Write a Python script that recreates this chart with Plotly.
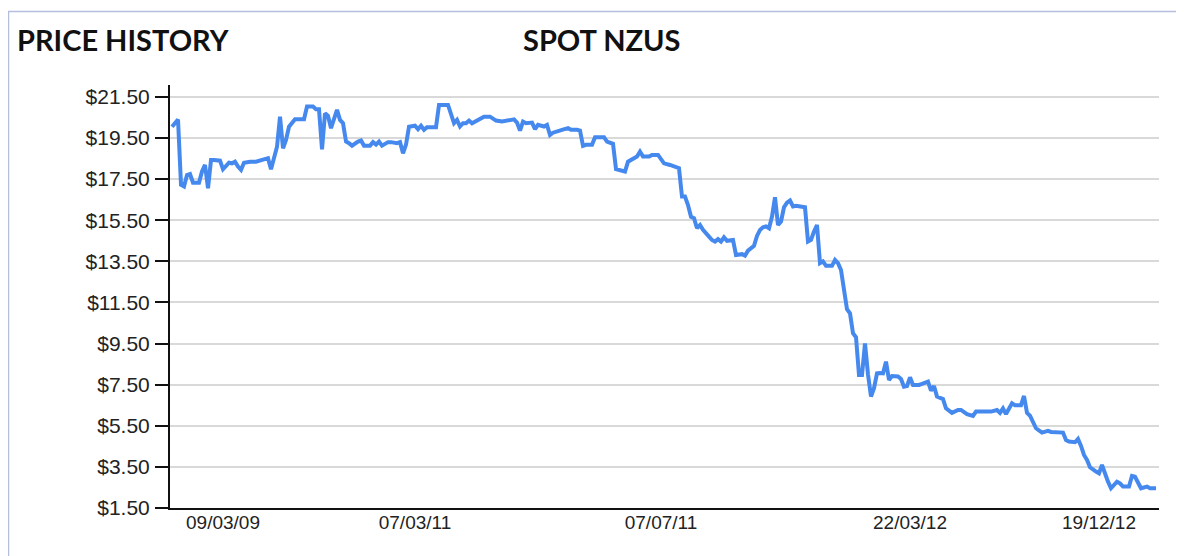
import plotly.graph_objects as go

# ---- data (observation index along the series, spot NZU price in NZ$) ----
obs = [0, 2, 3, 4, 5, 6, 7, 9, 10, 11, 12, 13, 14, 15, 16, 17, 19, 20, 21, 22, 23, 24, 26, 28, 29, 31, 32, 33, 35, 36,
       37, 38, 39, 41, 42, 44, 45, 47, 48, 49, 50, 51, 52, 53, 55, 56, 57, 58, 59, 60, 62, 63, 64, 66, 67, 68, 69, 70,
       72, 73, 75, 76, 77, 78, 79, 81, 82, 83, 84, 85, 87, 88, 89, 90, 92, 94, 95, 96, 97, 98, 99, 100, 102, 104, 106,
       108, 110, 113, 114, 115, 116, 117, 118, 120, 121, 122, 124, 125, 126, 127, 129, 130, 132, 133, 135, 136, 137,
       138, 140, 141, 142, 144, 145, 146, 147, 148, 149, 151, 152, 153, 155, 156, 157, 159, 160, 162, 163, 164, 166,
       168, 169, 170, 171, 172, 173, 174, 175, 176, 177, 179, 180, 181, 182, 183, 184, 185, 187, 188, 189, 190, 191,
       192, 194, 195, 196, 197, 198, 199, 200, 201, 202, 203, 204, 205, 206, 207, 208, 209, 211, 212, 213, 214, 215,
       216, 217, 218, 220, 221, 222, 223, 224, 225, 226, 227, 228, 229, 230, 231, 232, 233, 234, 235, 236, 237, 238,
       239, 240, 242, 243, 244, 245, 246, 247, 249, 250, 252, 253, 254, 255, 257, 258, 260, 262, 263, 265, 267, 268,
       270, 272, 273, 275, 276, 277, 278, 280, 281, 282, 283, 284, 285, 286, 287, 288, 290, 292, 293, 295, 297, 298,
       299, 301, 302, 303, 304, 305, 306, 308, 309, 310, 311, 312, 313, 315, 316, 317, 319, 320, 321, 322, 323, 325,
       326, 328]
price = [20.05, 20.40, 17.22, 17.14, 17.70, 17.75, 17.33, 17.33, 17.87, 18.19, 17.06, 18.43, 18.43, 18.43, 18.40,
         17.98, 18.30, 18.27, 18.35, 18.11, 17.95, 18.30, 18.35, 18.35, 18.40, 18.52, 18.52, 17.98, 19.08, 20.54,
         19.00, 19.41, 20.05, 20.41, 20.41, 20.41, 21.03, 21.03, 20.90, 20.90, 18.95, 20.70, 20.58, 19.98, 20.87,
         20.38, 20.22, 19.33, 19.25, 19.13, 19.33, 19.38, 19.13, 19.13, 19.30, 19.18, 19.33, 19.13, 19.30, 19.30,
         19.25, 19.30, 18.76, 19.18, 20.05, 20.10, 19.93, 20.10, 19.90, 20.03, 20.03, 20.03, 21.11, 21.11, 21.11,
         20.22, 20.38, 20.06, 20.22, 20.22, 20.35, 20.22, 20.38, 20.54, 20.54, 20.35, 20.30, 20.35, 20.41, 20.25,
         19.86, 20.30, 20.22, 20.25, 19.93, 20.14, 20.06, 20.14, 19.65, 19.76, 19.82, 19.90, 19.98, 19.90, 19.90,
         19.86, 19.12, 19.17, 19.17, 19.54, 19.54, 19.54, 19.33, 19.28, 19.22, 17.98, 17.95, 17.87, 18.35, 18.43,
         18.60, 18.84, 18.60, 18.60, 18.68, 18.68, 18.43, 18.27, 18.19, 18.10, 18.03, 16.65, 16.65, 16.24, 15.67,
         15.60, 15.11, 15.27, 15.03, 14.70, 14.54, 14.46, 14.58, 14.46, 14.67, 14.50, 14.54, 13.81, 13.85, 13.85,
         13.78, 14.02, 14.25, 14.74, 15.03, 15.16, 15.20, 15.11, 15.68, 16.62, 15.27, 15.44, 16.13, 16.36, 16.46,
         16.17, 16.20, 16.17, 16.13, 14.46, 14.54, 14.95, 15.27, 13.41, 13.50, 13.28, 13.28, 13.57, 13.41, 13.08,
         11.95, 11.17, 10.97, 10.00, 9.81, 7.97, 7.97, 9.51, 8.00, 6.92, 7.33, 8.05, 8.07, 8.05, 8.62, 7.73, 7.92,
         7.90, 7.78, 7.40, 7.43, 7.86, 7.49, 7.49, 7.54, 7.65, 7.21, 7.43, 6.92, 6.80, 6.35, 6.13, 6.27, 6.27, 6.07,
         5.98, 6.19, 6.19, 6.19, 6.19, 6.27, 6.13, 6.35, 6.07, 6.59, 6.50, 6.50, 6.50, 6.95, 6.13, 5.99, 5.70, 5.38,
         5.17, 5.25, 5.20, 5.17, 5.17, 4.81, 4.73, 4.70, 4.86, 4.52, 4.08, 3.84, 3.48, 3.27, 3.19, 3.59, 3.10, 2.78,
         2.46, 2.78, 2.70, 2.54, 2.54, 3.06, 3.02, 2.73, 2.46, 2.54, 2.46, 2.46]

date_tick_obs = [17, 81, 163, 246, 309]
date_tick_labels = ["09/03/09", "07/03/11", "07/07/11", "22/03/12", "19/12/12"]
price_ticks = [1.5, 3.5, 5.5, 7.5, 9.5, 11.5, 13.5, 15.5, 17.5, 19.5, 21.5]
price_tick_labels = ["$%.2f" % v for v in price_ticks]

chart_title = "PRICE HISTORY"
series_title = "SPOT NZUS"

# ---- layout geometry (pixels, in page coordinates; page body has an 8px margin) ----
OFF = 8
W, H = 1184 - OFF, 556 - OFF
L, R, T, B = 170 - OFF, 1159 - OFF, 85 - OFF, 508 - OFF
pw, ph = R - L, B - T


def px(x):
    return (x - OFF - L) / pw


def py(y):
    return (B - (y - OFF)) / ph


fig = go.Figure()
fig.add_trace(go.Scatter(
    x=obs, y=price, mode="lines",
    line=dict(color="#4589ee", width=4),
    hoverinfo="skip", showlegend=False,
))

x_font = dict(family="Liberation Sans, Arial, sans-serif", size=19, color="#222222")
y_font = dict(family="Liberation Sans, Arial, sans-serif", size=21, color="#222222")

fig.update_layout(
    width=W, height=H,
    margin=dict(l=L, r=W - R, t=T, b=H - B, pad=0),
    paper_bgcolor="white", plot_bgcolor="white",
    xaxis=dict(
        range=[-0.67, 329], showgrid=False, zeroline=False,
        tickmode="array", tickvals=date_tick_obs, ticktext=date_tick_labels,
        ticks="", showline=True, linecolor="#111111", linewidth=2,
        tickfont=x_font, ticklabelstandoff=-4,
    ),
    yaxis=dict(
        range=[1.5, 22.08], zeroline=False,
        tickmode="array", tickvals=price_ticks, ticktext=price_tick_labels,
        showgrid=True, gridcolor="#d9d9d9", gridwidth=1.5,
        ticks="outside", ticklen=13, tickwidth=2, tickcolor="#111111",
        showline=True, linecolor="#111111", linewidth=2,
        tickfont=y_font, ticklabelstandoff=1,
    ),
    shapes=[dict(
        type="rect", xref="paper", yref="paper",
        x0=px(8.5), x1=px(1200), y0=py(570), y1=py(11.5),
        line=dict(color="#b3bfdd", width=1.5), fillcolor="rgba(0,0,0,0)",
        layer="below",
    )],
    annotations=[
        dict(text="<b>" + chart_title + "</b>", xref="paper", yref="paper",
             x=px(15), y=py(40), xanchor="left", yanchor="middle", showarrow=False,
             font=dict(family="Lato, sans-serif", size=29, color="#111111")),
        dict(text="<b>" + series_title + "</b>", xref="paper", yref="paper",
             x=px(601), y=py(40), xanchor="center", yanchor="middle", showarrow=False,
             font=dict(family="Lato, sans-serif", size=29, color="#111111")),
    ],
)

fig.write_html("out.html")
